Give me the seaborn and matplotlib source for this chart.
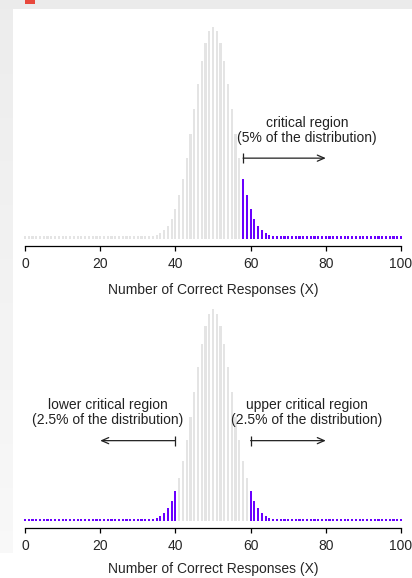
import numpy as np
import pandas as pd
import matplotlib
matplotlib.use("Agg")
import matplotlib.pyplot as plt
from matplotlib.patches import Rectangle
import seaborn as sns

# number of correct responses out of 100 and the probability of each
responses = list(range(101))
probability = ([0.0] * 32 +
               [0.0001, 0.0002, 0.0005, 0.0009, 0.0016, 0.0027, 0.0045, 0.0071, 0.0108,
                0.0159, 0.0223, 0.0301, 0.0390, 0.0485, 0.0580, 0.0666, 0.0735, 0.0780,
                0.0796,
                0.0780, 0.0735, 0.0666, 0.0580, 0.0485, 0.0390, 0.0301, 0.0223, 0.0159,
                0.0108, 0.0071, 0.0045, 0.0027, 0.0016, 0.0009, 0.0005, 0.0002, 0.0001] +
               [0.0] * 32)

# critical region boundaries
one_sided_upper = 58
two_sided_lower = 40
two_sided_upper = 60

xlabel = "Number of Correct Responses (X)"
tick_values = [0, 20, 40, 60, 80, 100]
grey = "#e4e4e4"
purple = "#6a00ff"

sns.set_style("white")
plt.rcParams["font.family"] = ["Liberation Sans", "DejaVu Sans"]

W, H = 412, 578
fig = plt.figure(figsize=(W / 100, H / 100), dpi=100)

# screenshot frame around the plot
def px_rect(x0, y0, x1, y1, color):
    fig.add_artist(Rectangle((x0 / W, 1 - y1 / H), (x1 - x0) / W, (y1 - y0) / H,
                             transform=fig.transFigure, color=color, lw=0, zorder=-5))

px_rect(0, 0, W, 9, "#ebebeb")
strip = fig.add_axes([0, 1 - 553 / H, 13 / W, (553 - 9) / H], zorder=-5)
strip.imshow(np.linspace(0.925, 0.97, 50).reshape(-1, 1), cmap="gray", vmin=0, vmax=1,
             aspect="auto")
strip.axis("off")
px_rect(25, 0, 35, 4, "#e8483c")

px_per_x = 3.76
px_per_y = 2645
x0_px = 25
xlim = (-2, 102)
ylim = (-0.002, 0.082)


def make_axes(baseline_px):
    left = x0_px + xlim[0] * px_per_x
    right = x0_px + xlim[1] * px_per_x
    bottom = baseline_px - ylim[0] * px_per_y
    top = baseline_px - ylim[1] * px_per_y
    return fig.add_axes([left / W, 1 - bottom / H, (right - left) / W, (bottom - top) / H])


def draw_panel(ax, critical, labelpad=9):
    df = pd.DataFrame({"x": responses, "p": probability})
    df["region"] = np.where(critical(df["x"]), "critical", "other")
    df["base"] = 0.0
    pal = {"critical": purple, "other": grey}
    sns.barplot(data=df, x="x", y="p", hue="region", native_scale=True, dodge=False,
                palette=pal, width=0.58, linewidth=0, legend=False, ax=ax, saturation=1)
    # small end cap on every bar, so the empty ones show as dots on the baseline
    sns.scatterplot(data=df, x="x", y="base", hue="region", palette=pal, marker="s",
                    s=2.4, linewidth=0, legend=False, ax=ax)
    ax.set_xlim(*xlim)
    ax.set_ylim(*ylim)
    ax.set_yticks([])
    ax.set_ylabel("")
    ax.set_xticks(tick_values)
    ax.set_xticklabels([str(t) for t in tick_values])
    ax.set_xlabel(xlabel, fontsize=10, labelpad=labelpad)
    for s in ["left", "top", "right"]:
        ax.spines[s].set_visible(False)
    ax.spines["bottom"].set_position(("outward", 2))
    ax.spines["bottom"].set_bounds(0, 100)
    ax.spines["bottom"].set_color("black")
    ax.spines["bottom"].set_linewidth(0.9)
    ax.tick_params(axis="x", direction="out", length=3.6, width=0.9, color="black",
                   labelsize=10, pad=4.5, bottom=True)
    ax.patch.set_alpha(0)


def arrow(ax, start, end, y=0.030):
    ax.annotate("", xy=(end, y), xytext=(start, y),
                arrowprops=dict(arrowstyle="->,head_length=0.5,head_width=0.22",
                                color="#222222", lw=0.9, shrinkA=0, shrinkB=0,
                                mutation_scale=10))
    ax.plot([start], [y], marker="|", markersize=7.5, markeredgewidth=0.9,
            color="#222222")


top = make_axes(237.5)
draw_panel(top, lambda x: x >= one_sided_upper)
top.text(75, 0.0405, "critical region\n(5% of the distribution)", ha="center",
         va="center", fontsize=10, linespacing=1.1, color="#222222")
arrow(top, one_sided_upper, 80)

bottom = make_axes(520)
draw_panel(bottom, lambda x: (x <= two_sided_lower) | (x >= two_sided_upper), labelpad=6.5)
bottom.text(22, 0.0405, "lower critical region\n(2.5% of the distribution)", ha="center",
            va="center", fontsize=10, linespacing=1.1, color="#222222")
bottom.text(75, 0.0405, "upper critical region\n(2.5% of the distribution)", ha="center",
            va="center", fontsize=10, linespacing=1.1, color="#222222")
arrow(bottom, two_sided_lower, 20)
arrow(bottom, two_sided_upper, 80)

fig.savefig("out.png", dpi=100)
